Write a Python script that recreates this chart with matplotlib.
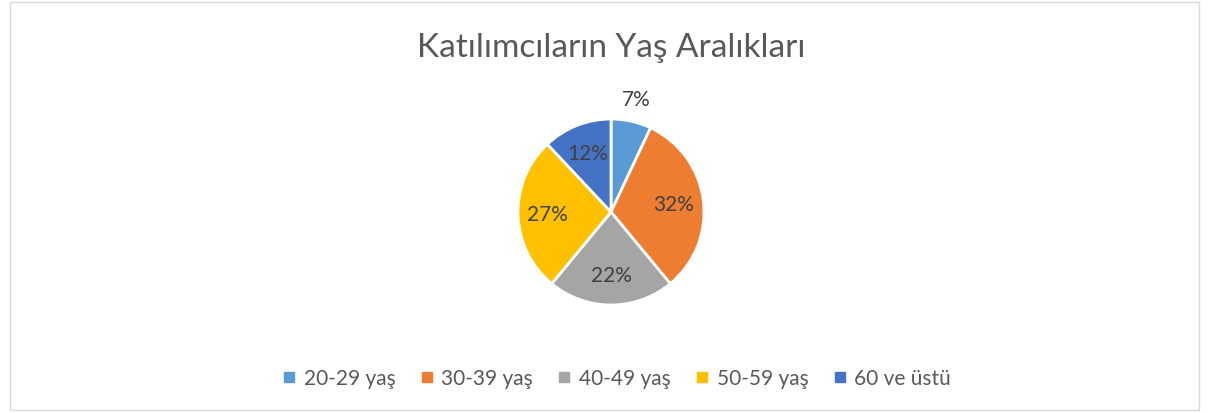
import numpy as np
import matplotlib.pyplot as plt
from matplotlib.patches import Rectangle
from matplotlib.lines import Line2D

plt.rcParams['font.family'] = ['Lato', 'DejaVu Sans']

# data
age_groups = ['20-29 yaş', '30-39 yaş', '40-49 yaş', '50-59 yaş', '60 ve üstü']
shares = [7, 32, 22, 27, 12]
colors = ['#5B9BD5', '#ED7D31', '#A5A5A5', '#FFC000', '#4472C4']
title = 'Katılımcıların Yaş Aralıkları'

W, H = 1208, 414
fig = plt.figure(figsize=(W / 100, H / 100), dpi=100)

# outer frame
fig.patches.append(Rectangle((10 / W, 3 / H), 1189 / W, 408 / H, transform=fig.transFigure,
                             fill=False, edgecolor='#D9D9D9', linewidth=1))

cx, cy, r = 611, 213, 93
ax = fig.add_axes([(cx - r) / W, (H - cy - r) / H, 2 * r / W, 2 * r / H])
wedges, texts, autotexts = ax.pie(shares, colors=colors, startangle=90, counterclock=False,
                                  autopct='%d%%', pctdistance=0.68,
                                  wedgeprops={'edgecolor': 'white', 'linewidth': 2},
                                  textprops={'color': '#404040', 'fontsize': 15})
# small slice label sits outside
mid = np.deg2rad((wedges[0].theta1 + wedges[0].theta2) / 2)
autotexts[0].set_position((1.24 * np.cos(mid), 1.24 * np.sin(mid)))
ax.set_xlim(-1, 1)
ax.set_ylim(-1, 1)
ax.axis('off')

fig.text(611 / W, 1 - 48 / H, title, ha='center', va='center', fontsize=24, color='#595959')

handles = [Line2D([], [], marker='s', linestyle='', markersize=7, color=c) for c in colors]
fig.legend(handles, age_groups, loc='center', bbox_to_anchor=(617 / W, 1 - 379 / H), ncol=5,
           frameon=False, fontsize=15, labelcolor='#595959', handletextpad=0.4,
           columnspacing=1.2, handlelength=0.6)

fig.savefig('out.png', dpi=100)
